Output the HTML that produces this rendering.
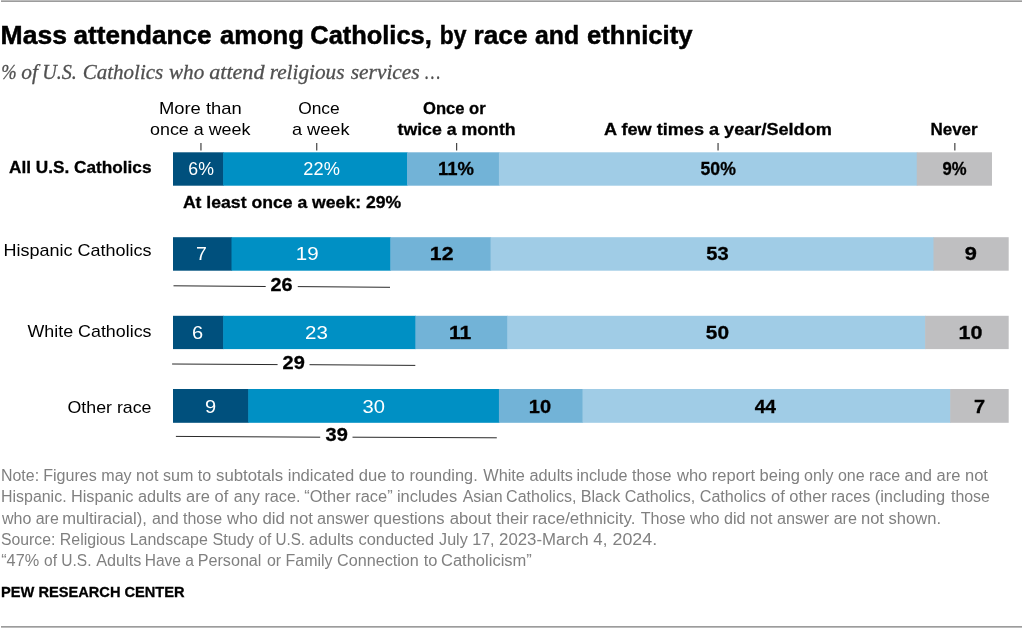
<!DOCTYPE html>
<html lang="en"><head><meta charset="utf-8"><title>Mass attendance among Catholics, by race and ethnicity</title>
<style>
html,body{margin:0;padding:0;background:#fff;}
body{width:1023px;height:628px;overflow:hidden;}
svg{display:block;}
text{font-family:"Liberation Sans",sans-serif;white-space:pre;}
.serif{font-family:"Liberation Serif",serif;font-style:italic;}
.b{font-weight:bold;stroke:#000;stroke-width:0.3px;}
.ttl{stroke-width:0.5px;}
.serif{stroke:#505050;stroke-width:0.3px;}
</style></head><body>
<svg width="1023" height="628" viewBox="0 0 1023 628">
<rect x="1" y="0" width="1021" height="1" fill="#bcbcbc"/><rect x="1" y="1" width="1021" height="1" fill="#9c9c9c"/>
<rect x="1" y="626" width="1021" height="1" fill="#9c9c9c"/><rect x="1" y="627" width="1021" height="1" fill="#bcbcbc"/>
<rect x="200.40" y="143" width="1.1" height="7.5" fill="#333"/>
<rect x="316.20" y="143" width="1.1" height="7.5" fill="#333"/>
<rect x="456.10" y="143" width="1.1" height="7.5" fill="#333"/>
<rect x="717.50" y="143" width="1.1" height="7.5" fill="#333"/>
<rect x="954.30" y="143" width="1.1" height="7.5" fill="#333"/>
<rect x="173.00" y="152.3" width="50.74" height="33.40" fill="#00507d"/><rect x="223.14" y="152.3" width="184.45" height="33.40" fill="#0090c4"/><rect x="407.00" y="152.3" width="92.53" height="33.40" fill="#72b3d7"/><rect x="498.92" y="152.3" width="418.45" height="33.40" fill="#a0cce6"/><rect x="916.77" y="152.3" width="75.21" height="33.40" fill="#bfbfc1"/>
<rect x="173.00" y="237.2" width="59.10" height="33.50" fill="#00507d"/><rect x="231.50" y="237.2" width="159.38" height="33.50" fill="#0090c4"/><rect x="390.28" y="237.2" width="100.88" height="33.50" fill="#72b3d7"/><rect x="490.57" y="237.2" width="443.52" height="33.50" fill="#a0cce6"/><rect x="933.49" y="237.2" width="75.21" height="33.50" fill="#bfbfc1"/>
<rect x="173.00" y="315.8" width="50.74" height="33.30" fill="#00507d"/><rect x="223.14" y="315.8" width="192.81" height="33.30" fill="#0090c4"/><rect x="415.35" y="315.8" width="92.53" height="33.30" fill="#72b3d7"/><rect x="507.28" y="315.8" width="418.45" height="33.30" fill="#a0cce6"/><rect x="925.13" y="315.8" width="83.57" height="33.30" fill="#bfbfc1"/>
<rect x="173.00" y="389.0" width="75.81" height="33.80" fill="#00507d"/><rect x="248.21" y="389.0" width="251.31" height="33.80" fill="#0090c4"/><rect x="498.92" y="389.0" width="84.17" height="33.80" fill="#72b3d7"/><rect x="582.49" y="389.0" width="368.31" height="33.80" fill="#a0cce6"/><rect x="950.20" y="389.0" width="58.50" height="33.80" fill="#bfbfc1"/>
<line x1="173.5" y1="285.8" x2="265.7" y2="286.5" stroke="#2a2a2a" stroke-width="1"/>
<line x1="297.8" y1="286.6" x2="390" y2="287.3" stroke="#2a2a2a" stroke-width="1"/>
<line x1="172.1" y1="364.0" x2="277.6" y2="364.6" stroke="#2a2a2a" stroke-width="1"/>
<line x1="309.5" y1="364.7" x2="415.3" y2="365.4" stroke="#2a2a2a" stroke-width="1"/>
<line x1="175.9" y1="436.4" x2="320.2" y2="437.2" stroke="#2a2a2a" stroke-width="1"/>
<line x1="352.5" y1="437.2" x2="496.8" y2="437.8" stroke="#2a2a2a" stroke-width="1"/>
<text class="b ttl" y="43.6" font-size="26" fill="#000"><tspan x="0.57" textLength="66.40" lengthAdjust="spacingAndGlyphs">Mass</tspan> <tspan x="73.50" textLength="137.97" lengthAdjust="spacingAndGlyphs">attendance</tspan> <tspan x="220.00" textLength="83.87" lengthAdjust="spacingAndGlyphs">among</tspan> <tspan x="310.27" textLength="121.52" lengthAdjust="spacingAndGlyphs">Catholics,</tspan> <tspan x="439.72" textLength="26.70" lengthAdjust="spacingAndGlyphs">by</tspan> <tspan x="473.58" textLength="53.88" lengthAdjust="spacingAndGlyphs">race</tspan> <tspan x="535.00" textLength="44.09" lengthAdjust="spacingAndGlyphs">and</tspan> <tspan x="587.01" textLength="105.45" lengthAdjust="spacingAndGlyphs">ethnicity</tspan></text>
<text class="serif" y="78.75" font-size="21.3" fill="#505050"><tspan x="1.13" textLength="15.38" lengthAdjust="spacingAndGlyphs">%</tspan> <tspan x="21.21" textLength="16.65" lengthAdjust="spacingAndGlyphs">of</tspan> <tspan x="42.16" textLength="34.71" lengthAdjust="spacingAndGlyphs">U.S.</tspan> <tspan x="82.76" textLength="80.50" lengthAdjust="spacingAndGlyphs">Catholics</tspan> <tspan x="169.04" textLength="35.22" lengthAdjust="spacingAndGlyphs">who</tspan> <tspan x="209.21" textLength="55.23" lengthAdjust="spacingAndGlyphs">attend</tspan> <tspan x="269.72" textLength="74.69" lengthAdjust="spacingAndGlyphs">religious</tspan> <tspan x="350.75" textLength="68.90" lengthAdjust="spacingAndGlyphs">services</tspan> <tspan x="425.00" textLength="15.30" lengthAdjust="spacingAndGlyphs">…</tspan></text>
<text x="158.92" y="114.25" font-size="17.0" fill="#000" textLength="82.82" lengthAdjust="spacingAndGlyphs">More than</text>
<text x="149.99" y="135" font-size="17.0" fill="#000" textLength="100.49" lengthAdjust="spacingAndGlyphs">once a week</text>
<text x="298.20" y="114.25" font-size="17.0" fill="#000" textLength="41.54" lengthAdjust="spacingAndGlyphs">Once</text>
<text x="291.96" y="135" font-size="17.0" fill="#000" textLength="57.54" lengthAdjust="spacingAndGlyphs">a week</text>
<text class="b" x="423.00" y="114.25" font-size="16.6" fill="#000" textLength="62.71" lengthAdjust="spacingAndGlyphs">Once or</text>
<text class="b" x="397.50" y="135" font-size="16.6" fill="#000" textLength="118.15" lengthAdjust="spacingAndGlyphs">twice a month</text>
<text class="b" x="604.00" y="135" font-size="16.6" fill="#000" textLength="227.83" lengthAdjust="spacingAndGlyphs">A few times a year/Seldom</text>
<text class="b" x="930.48" y="135" font-size="16.6" fill="#000" textLength="47.22" lengthAdjust="spacingAndGlyphs">Never</text>
<text class="b" x="9.00" y="172.5" font-size="16.6" fill="#000" textLength="142.49" lengthAdjust="spacingAndGlyphs">All U.S. Catholics</text>
<text x="3.44" y="255.75" font-size="17.0" fill="#000" textLength="148.09" lengthAdjust="spacingAndGlyphs">Hispanic Catholics</text>
<text x="27.50" y="336.75" font-size="17.0" fill="#000" textLength="124.03" lengthAdjust="spacingAndGlyphs">White Catholics</text>
<text x="67.50" y="412.5" font-size="17.0" fill="#000" textLength="83.98" lengthAdjust="spacingAndGlyphs">Other race</text>
<text x="188.30" y="174.7" font-size="17.8" fill="#fff" textLength="25.58" lengthAdjust="spacingAndGlyphs">6%</text>
<text x="303.36" y="174.7" font-size="17.8" fill="#fff" textLength="36.50" lengthAdjust="spacingAndGlyphs">22%</text>
<text class="b" x="438.06" y="174.7" font-size="17.8" fill="#000" textLength="35.94" lengthAdjust="spacingAndGlyphs">11%</text>
<text class="b" x="700.55" y="174.7" font-size="17.8" fill="#000" textLength="35.29" lengthAdjust="spacingAndGlyphs">50%</text>
<text class="b" x="942.56" y="174.7" font-size="17.8" fill="#000" textLength="24.08" lengthAdjust="spacingAndGlyphs">9%</text>
<text x="195.94" y="259.5" font-size="17.8" fill="#fff" textLength="10.88" lengthAdjust="spacingAndGlyphs">7</text>
<text x="295.77" y="259.5" font-size="17.8" fill="#fff" textLength="22.86" lengthAdjust="spacingAndGlyphs">19</text>
<text class="b" x="429.80" y="259.5" font-size="17.8" fill="#000" textLength="23.70" lengthAdjust="spacingAndGlyphs">12</text>
<text class="b" x="706.35" y="259.5" font-size="17.8" fill="#000" textLength="22.35" lengthAdjust="spacingAndGlyphs">53</text>
<text class="b" x="964.70" y="259.5" font-size="17.8" fill="#000" textLength="12.11" lengthAdjust="spacingAndGlyphs">9</text>
<text x="191.91" y="339.25" font-size="17.8" fill="#fff" textLength="11.16" lengthAdjust="spacingAndGlyphs">6</text>
<text x="305.12" y="339.25" font-size="17.8" fill="#fff" textLength="22.83" lengthAdjust="spacingAndGlyphs">23</text>
<text class="b" x="449.06" y="339.25" font-size="17.8" fill="#000" textLength="22.31" lengthAdjust="spacingAndGlyphs">11</text>
<text class="b" x="705.84" y="339.25" font-size="17.8" fill="#000" textLength="23.13" lengthAdjust="spacingAndGlyphs">50</text>
<text class="b" x="958.59" y="339.25" font-size="17.8" fill="#000" textLength="23.91" lengthAdjust="spacingAndGlyphs">10</text>
<text x="204.91" y="412.6" font-size="17.8" fill="#fff" textLength="11.16" lengthAdjust="spacingAndGlyphs">9</text>
<text x="362.45" y="412.6" font-size="17.8" fill="#fff" textLength="22.45" lengthAdjust="spacingAndGlyphs">30</text>
<text class="b" x="528.88" y="412.6" font-size="17.8" fill="#000" textLength="22.25" lengthAdjust="spacingAndGlyphs">10</text>
<text class="b" x="754.70" y="412.6" font-size="17.8" fill="#000" textLength="21.38" lengthAdjust="spacingAndGlyphs">44</text>
<text class="b" x="973.90" y="412.6" font-size="17.8" fill="#000" textLength="11.10" lengthAdjust="spacingAndGlyphs">7</text>
<text class="b" x="182.90" y="207.5" font-size="16.6" fill="#000" textLength="218.34" lengthAdjust="spacingAndGlyphs">At least once a week: 29%</text>
<text class="b" x="270.56" y="290.8" font-size="17.6" fill="#000" textLength="22.02" lengthAdjust="spacingAndGlyphs">26</text>
<text class="b" x="282.59" y="369.4" font-size="17.6" fill="#000" textLength="22.23" lengthAdjust="spacingAndGlyphs">29</text>
<text class="b" x="325.59" y="441.3" font-size="17.6" fill="#000" textLength="22.23" lengthAdjust="spacingAndGlyphs">39</text>
<text y="480.5" font-size="16.0" fill="#808080"><tspan x="1.00" textLength="38.07" lengthAdjust="spacingAndGlyphs">Note:</tspan> <tspan x="43.18" textLength="168.03" lengthAdjust="spacingAndGlyphs">Figures may not sum to</tspan> <tspan x="216.10" textLength="67.09" lengthAdjust="spacingAndGlyphs">subtotals</tspan> <tspan x="287.71" textLength="117.14" lengthAdjust="spacingAndGlyphs">indicated due to</tspan> <tspan x="409.48" textLength="68.21" lengthAdjust="spacingAndGlyphs">rounding.</tspan> <tspan x="483.25" textLength="89.72" lengthAdjust="spacingAndGlyphs">White adults</tspan> <tspan x="576.49" textLength="95.02" lengthAdjust="spacingAndGlyphs">include those</tspan> <tspan x="677.03" textLength="122.92" lengthAdjust="spacingAndGlyphs">who report being</tspan> <tspan x="804.00" textLength="96.29" lengthAdjust="spacingAndGlyphs">only one race</tspan> <tspan x="904.49" textLength="83.44" lengthAdjust="spacingAndGlyphs">and are not</tspan></text>
<text y="502.25" font-size="16.0" fill="#808080"><tspan x="1.00" textLength="65.57" lengthAdjust="spacingAndGlyphs">Hispanic.</tspan> <tspan x="70.98" textLength="110.47" lengthAdjust="spacingAndGlyphs">Hispanic adults</tspan> <tspan x="186.13" textLength="42.17" lengthAdjust="spacingAndGlyphs">are of</tspan> <tspan x="233.75" textLength="66.74" lengthAdjust="spacingAndGlyphs">any race.</tspan> <tspan x="304.19" textLength="88.44" lengthAdjust="spacingAndGlyphs">“Other race”</tspan> <tspan x="396.97" textLength="60.19" lengthAdjust="spacingAndGlyphs">includes</tspan> <tspan x="462.75" textLength="39.83" lengthAdjust="spacingAndGlyphs">Asian</tspan> <tspan x="506.07" textLength="70.30" lengthAdjust="spacingAndGlyphs">Catholics,</tspan> <tspan x="580.74" textLength="39.51" lengthAdjust="spacingAndGlyphs">Black</tspan> <tspan x="624.69" textLength="141.28" lengthAdjust="spacingAndGlyphs">Catholics, Catholics</tspan> <tspan x="771.00" textLength="55.92" lengthAdjust="spacingAndGlyphs">of other</tspan> <tspan x="831.00" textLength="39.29" lengthAdjust="spacingAndGlyphs">races</tspan> <tspan x="874.72" textLength="70.43" lengthAdjust="spacingAndGlyphs">(including</tspan> <tspan x="950.98" textLength="38.93" lengthAdjust="spacingAndGlyphs">those</tspan></text>
<text y="523.75" font-size="16.0" fill="#808080"><tspan x="2.00" textLength="56.81" lengthAdjust="spacingAndGlyphs">who are</tspan> <tspan x="62.22" textLength="84.65" lengthAdjust="spacingAndGlyphs">multiracial),</tspan> <tspan x="152.00" textLength="70.07" lengthAdjust="spacingAndGlyphs">and those</tspan> <tspan x="227.05" textLength="85.84" lengthAdjust="spacingAndGlyphs">who did not</tspan> <tspan x="317.00" textLength="52.25" lengthAdjust="spacingAndGlyphs">answer</tspan> <tspan x="373.52" textLength="70.90" lengthAdjust="spacingAndGlyphs">questions</tspan> <tspan x="449.75" textLength="78.86" lengthAdjust="spacingAndGlyphs">about their</tspan> <tspan x="532.19" textLength="103.29" lengthAdjust="spacingAndGlyphs">race/ethnicity.</tspan> <tspan x="640.69" textLength="131.77" lengthAdjust="spacingAndGlyphs">Those who did not</tspan> <tspan x="777.00" textLength="80.01" lengthAdjust="spacingAndGlyphs">answer are</tspan> <tspan x="860.97" textLength="80.03" lengthAdjust="spacingAndGlyphs">not shown.</tspan></text>
<text y="545" font-size="16.0" fill="#808080"><tspan x="1.04" textLength="54.37" lengthAdjust="spacingAndGlyphs">Source:</tspan> <tspan x="59.75" textLength="65.57" lengthAdjust="spacingAndGlyphs">Religious</tspan> <tspan x="129.75" textLength="78.07" lengthAdjust="spacingAndGlyphs">Landscape</tspan> <tspan x="212.50" textLength="41.49" lengthAdjust="spacingAndGlyphs">Study</tspan> <tspan x="258.55" textLength="46.52" lengthAdjust="spacingAndGlyphs">of U.S.</tspan> <tspan x="309.12" textLength="44.61" lengthAdjust="spacingAndGlyphs">adults</tspan> <tspan x="358.50" textLength="75.69" lengthAdjust="spacingAndGlyphs">conducted</tspan> <tspan x="439.09" textLength="55.52" lengthAdjust="spacingAndGlyphs">July 17,</tspan> <tspan x="499.07" textLength="108.33" lengthAdjust="spacingAndGlyphs">2023-March 4,</tspan> <tspan x="612.50" textLength="44.61" lengthAdjust="spacingAndGlyphs">2024.</tspan></text>
<text y="566.25" font-size="16.0" fill="#808080"><tspan x="1.19" textLength="37.98" lengthAdjust="spacingAndGlyphs">“47%</tspan> <tspan x="44.00" textLength="47.44" lengthAdjust="spacingAndGlyphs">of U.S.</tspan> <tspan x="96.25" textLength="45.00" lengthAdjust="spacingAndGlyphs">Adults</tspan> <tspan x="144.78" textLength="49.19" lengthAdjust="spacingAndGlyphs">Have a</tspan> <tspan x="197.70" textLength="63.76" lengthAdjust="spacingAndGlyphs">Personal</tspan> <tspan x="267.00" textLength="65.57" lengthAdjust="spacingAndGlyphs">or Family</tspan> <tspan x="337.07" textLength="81.76" lengthAdjust="spacingAndGlyphs">Connection</tspan> <tspan x="423.75" textLength="13.69" lengthAdjust="spacingAndGlyphs">to</tspan> <tspan x="440.99" textLength="90.86" lengthAdjust="spacingAndGlyphs">Catholicism”</tspan></text>
<text class="b" x="1.05" y="597" font-size="15.4" fill="#000" textLength="183.56" lengthAdjust="spacingAndGlyphs">PEW RESEARCH CENTER</text>
</svg>
</body></html>
